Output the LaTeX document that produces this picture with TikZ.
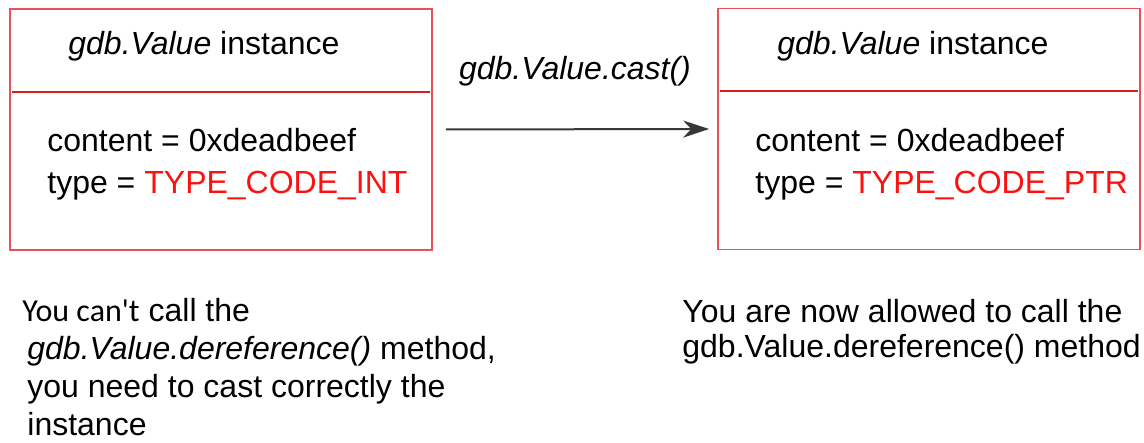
\documentclass[tikz,border=0pt]{standalone}
\usepackage{fontspec}
\setmainfont{Liberation Sans}
\newfontfamily\calibrifont{Carlito}
\usepackage{tikz}
\usetikzlibrary{arrows.meta,positioning,calc}
\definecolor{BoxRed}{HTML}{E8505A}
\definecolor{RuleRed}{HTML}{D42020}
\definecolor{CodeRed}{HTML}{FF1010}
\definecolor{ArrowGray}{HTML}{383838}

\begin{document}
\begin{tikzpicture}[
  x=0.5pt,y=-0.5pt,
  valuebox/.style={draw=BoxRed,line width=0.8pt,minimum width=211pt,minimum height=120.5pt,inner sep=0pt},
  divider/.style={draw=RuleRed,line width=1.1pt},
  txt/.style={inner sep=0pt,anchor=base west,font=\fontsize{16}{20}\selectfont},
  note/.style={txt,align=left},
  castarrow/.style={draw=ArrowGray,line width=1pt,-{Stealth[length=13pt,width=8.5pt,inset=4pt]}}
]
\useasboundingbox (0,0) rectangle (1144,443);
\node[valuebox] (before) at (221,129.5) {};
\node[valuebox] (after) at (929,129) {};
\draw[divider] ([xshift=1.5pt,yshift=-41.75pt]before.north west) -- ([xshift=-1.5pt,yshift=-41.75pt]before.north east);
\draw[divider] ([xshift=1.5pt,yshift=-41.75pt]after.north west) -- ([xshift=-1.5pt,yshift=-41.75pt]after.north east);
\node[txt] (beforetitle) at (68,55) {\textit{gdb.Value} instance};
\node[txt] (beforecontent) at (47,152) {content = 0xdeadbeef};
\node[txt] (beforetype) at (47,193) {type = \textcolor{CodeRed}{TYPE\_CODE\_INT}};
\node[txt] (aftertitle) at (777,55) {\textit{gdb.Value} instance};
\node[txt] (aftercontent) at (755,152) {content = 0xdeadbeef};
\node[txt] (aftertype) at (755,193) {type = \textcolor{CodeRed}{TYPE\_CODE\_PTR}};
\draw[castarrow,shorten <=6.5pt,shorten >=4pt] (before.east) -- (after.west)
  node[midway,anchor=base,yshift=25pt,font=\fontsize{16}{20}\selectfont] (castlabel) {\textit{gdb.Value.cast()}};
\node[note,font=\fontsize{16}{19}\selectfont] (beforenote) at (22,435) {{\calibrifont You can\textquotesingle t} call the\\
  \hspace*{2.5pt}\textit{gdb.Value.dereference()} method,\\
  \hspace*{2.5pt}you need to cast correctly the\\
  \hspace*{2.5pt}instance};
\node[note,font=\fontsize{16}{17.5}\selectfont] (afternote) at (682,357) {You are now allowed to call the\\
  gdb.Value.dereference() method};
\end{tikzpicture}
\end{document}
